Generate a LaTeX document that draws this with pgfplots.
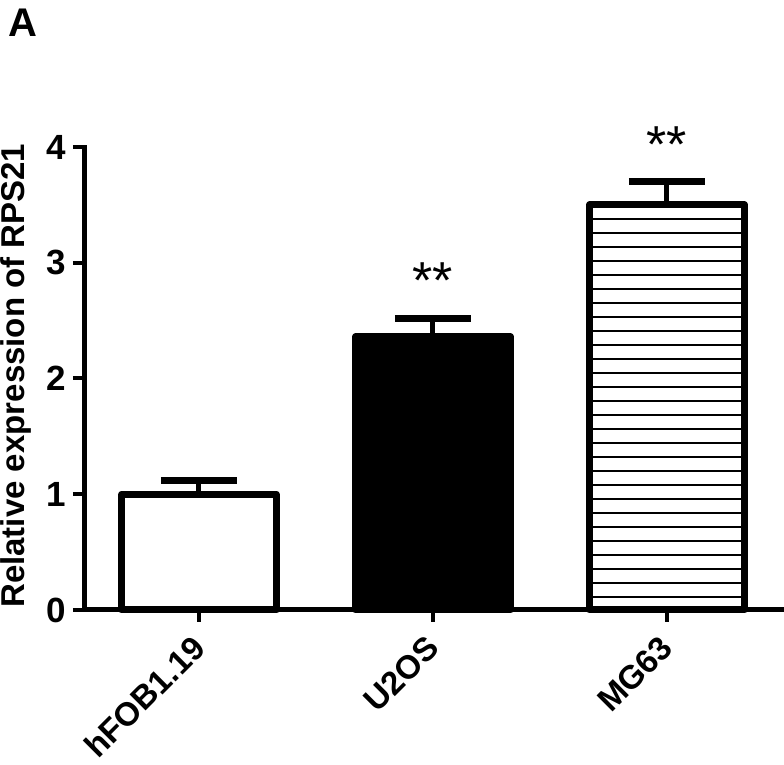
\documentclass[border=0pt]{standalone}
\usepackage{fontspec}
\setmainfont{Liberation Sans}
\usepackage{pgfplots}
\pgfplotsset{compat=1.18}
\usetikzlibrary{patterns.meta}

\begin{document}
\begin{tikzpicture}
\begin{axis}[
  at={(0,0)}, anchor=south west,
  width=349.5pt, height=231.5pt, scale only axis,
  xmin=-0.487, xmax=2.5, ymin=0, ymax=4,
  axis lines*=left,
  axis line style={line width=2.5pt, line cap=rect},
  clip=false,
  xtick={0,1,2},
  xticklabels={hFOB1.19,U2OS,MG63},
  ytick={0,1,2,3,4},
  tick align=outside, major tick length=6pt,
  tick style={line width=2pt, black},
  yticklabel style={font=\bfseries\fontsize{17.5}{17.5}\selectfont},
  /pgf/number format/assume math mode=true,
  xticklabel style={font=\bfseries\fontsize{16.5}{16.5}\selectfont,
    yshift=-10pt, xshift=0pt, rotate=45, anchor=east, inner sep=0pt},
  ylabel={Relative expression of RPS21},
  ylabel style={font=\bfseries\fontsize{16.5}{16.5}\selectfont,
    at={(axis description cs:-0.1216,0.506)}, anchor=north, inner sep=0pt},
  bar width=0.66, bar shift=0pt,
]
\addplot[ybar, draw=black, line width=3.5pt, line join=round, fill=white,
  error bars/.cd, y dir=plus, y explicit,
  error bar style={line width=2.5pt},
  error mark options={rotate=90, line width=3.5pt, mark size=19pt}]
  coordinates {(0,1.00) +- (0,0.12)};
\addplot[ybar, draw=black, line width=3.5pt, line join=round, fill=black,
  error bars/.cd, y dir=plus, y explicit,
  error bar style={line width=2.5pt},
  error mark options={rotate=90, line width=3.5pt, mark size=19pt}]
  coordinates {(1,2.36) +- (0,0.16)};
\addplot[ybar, draw=black, line width=3.5pt, line join=round,
  pattern={Lines[angle=0, distance=7pt, line width=0.8pt]},
  error bars/.cd, y dir=plus, y explicit,
  error bar style={line width=2.5pt},
  error mark options={rotate=90, line width=3.5pt, mark size=19pt}]
  coordinates {(2,3.50) +- (0,0.20)};
\node[anchor=base, inner sep=0pt, font=\fontsize{26}{26}\selectfont] at (axis cs:1,2.695) {**};
\node[anchor=base, inner sep=0pt, font=\fontsize{26}{26}\selectfont] at (axis cs:2,3.87) {**};
\node[anchor=north west, inner sep=0pt, font=\bfseries\fontsize{20}{20}\selectfont] at (rel axis cs:-0.110,1.300) {A};
\end{axis}
\pgfresetboundingbox
\path (-42.5pt,-77.5pt) rectangle (349.5pt,305pt);
\end{tikzpicture}
\end{document}
